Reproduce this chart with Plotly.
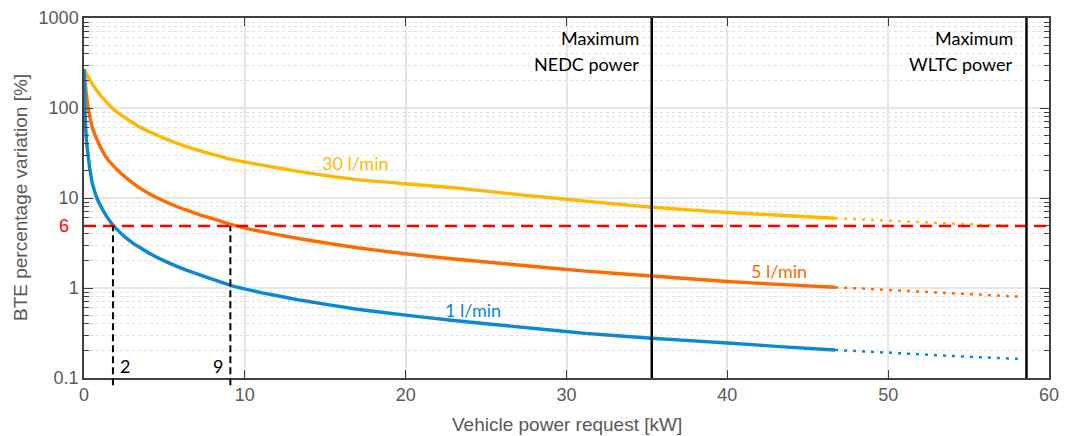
import math
import plotly.graph_objects as go

# ---- data ----
power_solid = [0, 0.03, 0.06, 0.1, 0.15, 0.2, 0.28, 0.35, 0.5, 0.65, 0.8, 1.0, 1.2, 1.5,
               1.8, 2.2, 2.5, 3.0, 3.5, 4.2, 5, 5.8, 6.5, 7.2, 8, 9.1,
               11, 13.5, 17, 20, 23, 27, 31, 35.3, 40, 43.5, 46.7]
bte_1lpm = [265, 150, 95, 62, 45, 36, 27, 22, 15, 12, 10, 8.4, 7.2, 5.9,
            5.0, 4.2, 3.75, 3.2, 2.8, 2.35, 2.0, 1.73, 1.55, 1.4, 1.25, 1.07,
            0.89, 0.73, 0.58, 0.5, 0.435, 0.37, 0.315, 0.276, 0.245, 0.222, 0.205]
bte_5lpm = [270, 235, 205, 170, 140, 118, 97, 83, 62, 52, 45, 37.5, 32, 26.5,
            23.0, 19.5, 17.5, 14.8, 12.8, 10.8, 9.2, 8.0, 7.2, 6.5, 5.9, 5.1,
            4.25, 3.5, 2.8, 2.4, 2.1, 1.8, 1.55, 1.36, 1.18, 1.09, 1.02]
bte_30lpm = [272, 265, 258, 250, 240, 231, 218, 207, 187, 170, 156, 140, 127, 111,
             98, 86, 79, 69, 61, 53, 46, 40.5, 36.5, 33.5, 30.5, 27,
             23.3, 19.5, 16, 14.4, 13.0, 10.9, 9.3, 7.9, 6.9, 6.4, 5.96]

power_dotted = [46.7, 49, 52, 55, 58.2]
bte_1lpm_dot = [0.205, 0.195, 0.183, 0.172, 0.163]
bte_5lpm_dot = [1.02, 0.97, 0.91, 0.86, 0.80]
bte_30lpm_dot = [5.96, 5.7, 5.35, 5.1, 4.88]

threshold_y = 4.9          # red dashed line (labelled "6")
threshold_label = "6"
crossing_x = [1.8, 9.1]    # dashed verticals
crossing_labels = ["2", "9"]
nedc_power = 35.3
wltc_power = 58.6

x_ticks = [0, 10, 20, 30, 40, 50, 60]
y_ticks = [0.1, 1, 10, 100, 1000]
y_ticktext = ["0.1", "1", "10", "100", "1000"]
y_minor = [m * 10 ** e for e in (-1, 0, 1, 2) for m in range(2, 10)]

series_labels = ["30 l/min", "5 l/min", "1 l/min"]
x_title = "Vehicle power request [kW]"
y_title = "BTE percentage variation [%]"

C_BLUE = "#0A88D2"
C_ORANGE = "#FF6A00"
C_YELLOW = "#FFB800"
GRAY_TXT = "#595959"
TXT_FONT = "Lato"
TICK_FONT = "Liberation Sans"

fig = go.Figure()
for xs, ys, col in [(power_solid, bte_30lpm, C_YELLOW),
                    (power_solid, bte_5lpm, C_ORANGE),
                    (power_solid, bte_1lpm, C_BLUE)]:
    fig.add_trace(go.Scatter(x=xs, y=ys, mode="lines",
                             line=dict(color=col, width=3.4, shape="spline", smoothing=0.4),
                             showlegend=False, hoverinfo="skip"))
for xs, ys, col in [(power_dotted, bte_30lpm_dot, C_YELLOW),
                    (power_dotted, bte_5lpm_dot, C_ORANGE),
                    (power_dotted, bte_1lpm_dot, C_BLUE)]:
    fig.add_trace(go.Scatter(x=xs, y=ys, mode="lines",
                             line=dict(color=col, width=2.5, dash="3px,6px"),
                             showlegend=False, hoverinfo="skip"))

# red threshold line
fig.add_trace(go.Scatter(x=[0, 60], y=[threshold_y, threshold_y], mode="lines",
                         line=dict(color="#FF0000", width=2.5, dash="12px,7px"),
                         showlegend=False, hoverinfo="skip"))

# vertical max power lines
for xv in [nedc_power, wltc_power]:
    fig.add_shape(type="line", xref="x", yref="paper", x0=xv, x1=xv, y0=0, y1=1,
                  line=dict(color="black", width=2.5))

yfrac = (math.log10(threshold_y) + 1) / 4
for xv, lab in zip(crossing_x, crossing_labels):
    fig.add_shape(type="line", xref="x", yref="paper", x0=xv, x1=xv, y0=-0.02, y1=yfrac,
                  line=dict(color="black", width=2, dash="7px,4px"))
    fig.add_annotation(x=xv, y=-0.87, xref="x", yref="y", text=lab, showarrow=False,
                       xanchor="left" if lab == "2" else "right",
                       xshift=5 if lab == "2" else -5,
                       font=dict(family=TXT_FONT, size=18, color="black"))

fig.add_annotation(x=0, y=math.log10(threshold_y), xref="paper", yref="y",
                   text=threshold_label, showarrow=False, xanchor="right", xshift=-13,
                   font=dict(family=TICK_FONT, size=18, color="#FF0000"))

for xv, l1, l2 in [(nedc_power, "Maximum", "NEDC power"),
                   (wltc_power, "Maximum", "WLTC power")]:
    fig.add_annotation(x=xv, y=2.783, xref="x", yref="y", text=l1, showarrow=False,
                       xanchor="right", xshift=-11,
                       font=dict(family=TXT_FONT, size=18, color="black"))
    fig.add_annotation(x=xv, y=2.494, xref="x", yref="y", text=l2, showarrow=False,
                       xanchor="right", xshift=-11,
                       font=dict(family=TXT_FONT, size=18, color="black"))

for txt, xv, yv, col in [(series_labels[0], 16.9, 1.389, C_YELLOW),
                         (series_labels[1], 43.2, 0.189, C_ORANGE),
                         (series_labels[2], 24.2, -0.241, C_BLUE)]:
    fig.add_annotation(x=xv, y=yv, xref="x", yref="y", text=txt, showarrow=False,
                       font=dict(family=TXT_FONT, size=18, color=col))

# axis titles as annotations for exact placement
fig.add_annotation(x=0.5, y=-46 / 360, xref="paper", yref="paper", text=x_title,
                   showarrow=False, yanchor="middle",
                   font=dict(family=TICK_FONT, size=19, color=GRAY_TXT))
fig.add_annotation(x=-64 / 965, y=0.5, xref="paper", yref="paper", text=y_title,
                   showarrow=False, textangle=-90, xanchor="center",
                   font=dict(family=TICK_FONT, size=19, color=GRAY_TXT))

fig.update_xaxes(range=[0, 60], tickvals=x_ticks, showline=True, linecolor="#404040",
                 linewidth=1.5, mirror="ticks", ticks="inside", ticklen=8,
                 tickcolor="#404040", showgrid=True, gridcolor="#E6E6E6", gridwidth=1.5,
                 zeroline=False, automargin=False,
                 tickfont=dict(family=TICK_FONT, size=18, color=GRAY_TXT))
fig.update_yaxes(type="log", range=[-1, 3], tickvals=y_ticks, ticktext=y_ticktext,
                 showline=True, linecolor="#404040", linewidth=1.5, mirror="ticks",
                 ticks="inside", ticklen=9, tickcolor="#404040",
                 showgrid=True, gridcolor="#E6E6E6", gridwidth=1.5, zeroline=False,
                 automargin=False,
                 minor=dict(tickvals=y_minor, ticks="inside", ticklen=5, tickcolor="#404040",
                            showgrid=True, gridcolor="#E0E0E0", griddash="dot", gridwidth=1),
                 tickfont=dict(family=TICK_FONT, size=18, color=GRAY_TXT))

fig.update_layout(width=1065, height=436, margin=dict(l=84, r=16, t=18, b=58),
                  plot_bgcolor="white", paper_bgcolor="white", showlegend=False)

# remove the default 8px page margin so the figure fills the window exactly
fig.write_html("out.html", config={"displayModeBar": False},
               post_script="document.body.style.margin='0';"
                           "document.body.style.overflow='hidden';")
